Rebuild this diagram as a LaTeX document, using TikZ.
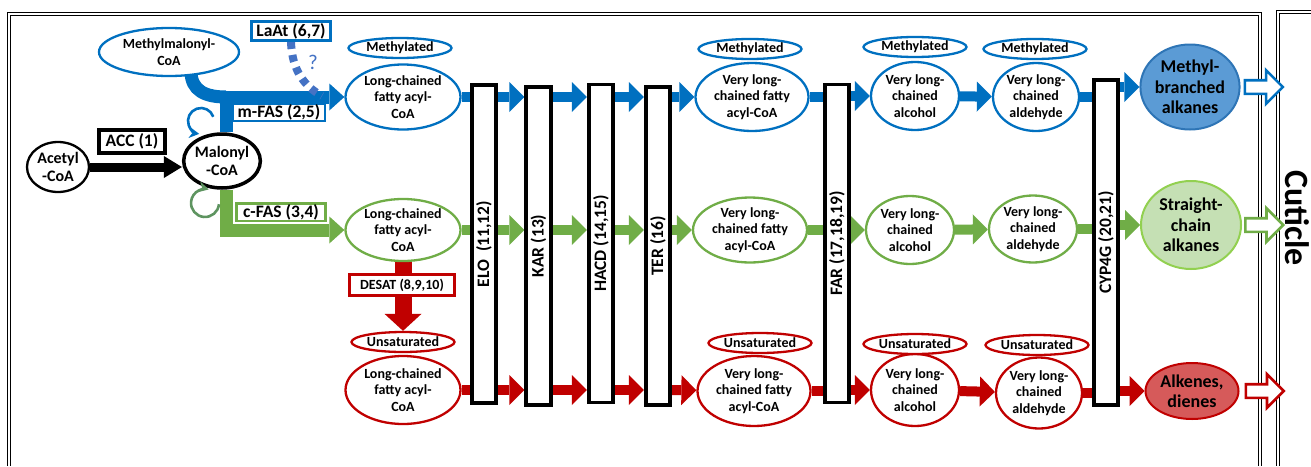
\documentclass[tikz,border=0pt]{standalone}
\usepackage{fontspec}
\setmainfont{Carlito}
\usepackage{tikz}
\usetikzlibrary{positioning}
\usetikzlibrary{arrows.meta}
\usetikzlibrary{shapes.geometric}
\usetikzlibrary{shapes.arrows}
\usetikzlibrary{backgrounds}

\definecolor{mblue}{HTML}{0070C0}
\definecolor{sgreen}{HTML}{70AD47}
\definecolor{ured}{HTML}{C00000}
\definecolor{lablue}{HTML}{4472C4}
\definecolor{spingreen}{HTML}{5E9460}
\definecolor{mbafill}{HTML}{5B9BD5}
\definecolor{mbaedge}{HTML}{2E75B6}
\definecolor{scafill}{HTML}{C5E0B4}
\definecolor{scaedge}{HTML}{92D050}
\definecolor{alkfill}{HTML}{D65A5A}

\tikzset{
  met/.style={ellipse, draw, fill=white, line width=2.3pt, inner sep=0pt, align=center,
      font=\fontsize{14}{16.7}\selectfont\bfseries},
  tag/.style={met, minimum width=103pt, minimum height=20pt},
  fin/.style={ellipse, draw, line width=2pt, inner sep=0pt, align=center,
      font=\fontsize{18}{20.5}\selectfont\bfseries},
  enz/.style={rectangle, draw, fill=white, line width=3.8pt, inner sep=0pt,
      minimum width=24.5pt, minimum height=318pt, font=\fontsize{17.5}{19}\selectfont\bfseries},
  lab/.style={rectangle, draw, fill=white, inner sep=0pt, font=\fontsize{17.5}{20}\selectfont\bfseries},
  blk/.style={line width=10pt, -{Triangle[width=30pt,length=15pt,line width=0pt]}},
  mainflow/.style={line width=13pt, -{Triangle[width=27pt,length=15pt,line width=0pt]}},
  outarr/.style={single arrow, draw, fill=white, line width=2.6pt, inner sep=0pt,
      text height=11pt, text depth=0pt, minimum height=38pt, single arrow head extend=10pt},
  dblframe/.style={draw=black, line width=1.1pt, double, double distance=1.5pt},
  spin/.style={line width=2.6pt, -{Stealth[length=10pt,width=11pt]}}
}

\begin{document}
\begin{tikzpicture}[x=1pt,y=-1pt]
\useasboundingbox (0,0) rectangle (1311,466);

% compartments
\draw[dblframe] (9,466) -- (9,14) -- (1260,14) -- (1260,466);
\draw[dblframe] (1311,12) -- (1278,12) -- (1278,466);
\node[rotate=-90, font=\fontsize{34}{34}\selectfont\bfseries] (cuticle) at (1297,218) {Cuticle};

% precursors
\node[met, draw=black, minimum width=62pt, minimum height=50pt, font=\fontsize{16}{17.5}\selectfont\bfseries] (acetyl) at (58,167) {Acetyl\\-CoA};
\node[met, draw=black, line width=3.5pt, minimum width=71pt, minimum height=54pt, font=\fontsize{16}{18.5}\selectfont\bfseries] (malonyl) at (222,161) {Malonyl\\-CoA};
\node[met, draw=mblue, minimum width=140pt, minimum height=48pt, font=\fontsize{14}{17}\selectfont\bfseries] (mmc) at (169,52) {Methylmalonyl-\\CoA};

\node[lab, line width=4pt, minimum width=66pt, minimum height=23pt] (acc) at (132,141.5) {ACC (1)};
\node[lab, draw=mblue, line width=3pt, minimum width=79pt, minimum height=19pt] (laat) at (291,31) {LaAt (6,7)};
\node[lab, draw=mblue, line width=2.5pt, minimum width=92pt, minimum height=17.5pt] (mfas) at (279,112) {m-FAS (2,5)};
\node[lab, draw=sgreen, line width=2.5pt, minimum width=89pt, minimum height=17.5pt] (cfas) at (281,212) {c-FAS (3,4)};
\node[text=lablue, font=\fontsize{21}{21}\selectfont] (qmark) at (313,62) {?};

% methyl-branched row
\node[met, draw=mblue, minimum width=115pt, minimum height=65pt] (lc-b) at (403,97) {Long-chained\\fatty acyl-\\CoA};
\node[met, draw=mblue, minimum width=113pt, minimum height=68pt] (vlc-b) at (752,97) {Very long-\\chained fatty\\acyl-CoA};
\node[met, draw=mblue, minimum width=88pt, minimum height=68pt] (alc-b) at (915,96) {Very long-\\chained\\alcohol};
\node[met, draw=mblue, minimum width=86pt, minimum height=68pt] (ald-b) at (1036,97) {Very long-\\chained\\aldehyde};
\node[tag, draw=mblue] (lc-b-tag) at (400,48) {Methylated};
\node[tag, draw=mblue] (vlc-b-tag) at (750,49) {Methylated};
\node[tag, draw=mblue] (alc-b-tag) at (915,47) {Methylated};
\node[tag, draw=mblue] (ald-b-tag) at (1035,49) {Methylated};

% straight-chain row
\node[met, draw=sgreen, minimum width=115pt, minimum height=62pt] (lc-g) at (403,230) {Long-chained\\fatty acyl-\\CoA};
\node[met, draw=sgreen, minimum width=114pt, minimum height=65pt] (vlc-g) at (750,230) {Very long-\\chained fatty\\acyl-CoA};
\node[met, draw=sgreen, minimum width=88pt, minimum height=68pt] (alc-g) at (910,230) {Very long-\\chained\\alcohol};
\node[met, draw=sgreen, minimum width=88pt, minimum height=67pt] (ald-g) at (1033,229) {Very long-\\chained\\aldehyde};

% unsaturated row
\node[met, draw=ured, minimum width=115pt, minimum height=68pt] (lc-r) at (403,390) {Long-chained\\fatty acyl-\\CoA};
\node[met, draw=ured, minimum width=113pt, minimum height=70pt] (vlc-r) at (754,391) {Very long-\\chained fatty\\acyl-CoA};
\node[met, draw=ured, minimum width=88pt, minimum height=72pt] (alc-r) at (915,390) {Very long-\\chained\\alcohol};
\node[met, draw=ured, minimum width=86pt, minimum height=71pt] (ald-r) at (1039,393) {Very long-\\chained\\aldehyde};
\node[tag, draw=ured] (lc-r-tag) at (403,342) {Unsaturated};
\node[tag, draw=ured] (vlc-r-tag) at (760,343) {Unsaturated};
\node[tag, draw=ured] (alc-r-tag) at (915,344) {Unsaturated};
\node[tag, draw=ured] (ald-r-tag) at (1037,345) {Unsaturated};
\node[lab, draw=ured, line width=3pt, minimum width=105pt, minimum height=21pt, font=\fontsize{14}{16}\selectfont\bfseries] (desat) at (402,285) {DESAT (8,9,10)};

% enzymes
\node[enz] (elo) at (484,244) {\rotatebox{90}{ELO\ \ (11,12)}};
\node[enz] (kar) at (538.5,246) {\rotatebox{90}{KAR (13)}};
\node[enz] (hacd) at (601,243.5) {\rotatebox{90}{HACD (14,15)}};
\node[enz] (ter) at (658,246) {\rotatebox{90}{TER (16)}};
\node[enz] (far) at (837,243.5) {\rotatebox{90}{FAR (17,18,19)}};
\node[enz, minimum height=325pt] (cyp) at (1106,242.5) {\rotatebox{90}{CYP4G (20,21)}};

% hydrocarbons
\node[fin, fill=mbafill, draw=mbaedge, minimum width=98pt, minimum height=85pt] (mba) at (1190,87) {Methyl-\\branched\\alkanes};
\node[fin, fill=scafill, draw=scaedge, minimum width=100pt, minimum height=88pt] (sca) at (1191,225) {Straight-\\chain\\alkanes};
\node[fin, fill=alkfill, draw=ured, minimum width=93pt, minimum height=56pt] (alk) at (1192,391) {Alkenes,\\dienes};
\node[outarr, draw=mblue, right=3pt of mba] (mba-out) {};
\node[outarr, draw=sgreen, right=2pt of sca] (sca-out) {};
\node[outarr, draw=ured, right=5pt of alk] (alk-out) {};

\begin{scope}[on background layer]
\draw[black, line width=9pt, -{Triangle[width=22pt,length=18pt,line width=0pt]}] (acetyl.east) -- (acetyl.east -| malonyl.west);
\draw[mainflow, mblue] ([xshift=4pt]malonyl.north) -- ([xshift=4pt]malonyl.north |- lc-b) -- (lc-b);
\draw[mblue, line width=13pt] ([xshift=22pt,yshift=6pt]mmc.south) .. controls +(0,20) and +(-20,0) .. ([xshift=4pt]malonyl.north |- lc-b);
\draw[mainflow, sgreen] ([xshift=4pt]malonyl.south) -- ([xshift=4pt]malonyl.south |- lc-g) -- (lc-g);
\coordinate (laat-end) at (322,96);
\draw[lablue, line width=8pt, dash pattern=on 7pt off 6pt] (laat.south) .. controls (292,70) and (304,86) .. (laat-end);
\draw[ured, line width=17pt, -{Triangle[width=37pt,length=17pt,line width=0pt]}] (lc-g) -- (lc-r-tag);

\path[blk, mblue] (lc-b) edge[-] (elo.west |- lc-b)
  (elo.east |- lc-b) edge (kar.west |- lc-b)
  (kar.east |- lc-b) edge (hacd.west |- lc-b)
  (hacd.east |- lc-b) edge (ter.west |- lc-b)
  (ter.east |- lc-b) edge (vlc-b)
  (vlc-b) edge[-] (far.west |- vlc-b)
  (far.east |- alc-b) edge (alc-b)
  (alc-b) edge (ald-b)
  (ald-b) edge[-] (cyp.west |- ald-b)
  (cyp.east |- mba) edge (mba);
\path[blk, sgreen] (lc-g) edge[-] (elo.west |- lc-g)
  (elo.east |- lc-g) edge (kar.west |- lc-g)
  (kar.east |- lc-g) edge (hacd.west |- lc-g)
  (hacd.east |- lc-g) edge (ter.west |- lc-g)
  (ter.east |- lc-g) edge (vlc-g)
  (vlc-g) edge[-] (far.west |- vlc-g)
  (far.east |- alc-g) edge (alc-g)
  (alc-g) edge (ald-g)
  (ald-g) edge[-] (cyp.west |- ald-g)
  (cyp.east |- sca) edge (sca);
\path[blk, ured] (lc-r) edge[-] (elo.west |- lc-r)
  (elo.east |- lc-r) edge (kar.west |- lc-r)
  (kar.east |- lc-r) edge (hacd.west |- lc-r)
  (hacd.east |- lc-r) edge (ter.west |- lc-r)
  (ter.east |- lc-r) edge (vlc-r)
  (vlc-r) edge[-] (far.west |- vlc-r)
  (far.east |- alc-r) edge (alc-r)
  (alc-r) edge (ald-r)
  (ald-r) edge[-] (cyp.west |- ald-r)
  (cyp.east |- alk) edge (alk);
\end{scope}

% recycling loops at malonyl-CoA
\coordinate (bspin) at (201,121);
\draw[spin, mblue] ([shift={(-19:13)}]bspin) arc[start angle=-19, end angle=-262, radius=13];
\coordinate (gspin) at (205,203);
\draw[spin, spingreen] ([shift={(5:14)}]gspin) arc[start angle=5, end angle=285, radius=14];
\end{tikzpicture}
\end{document}
